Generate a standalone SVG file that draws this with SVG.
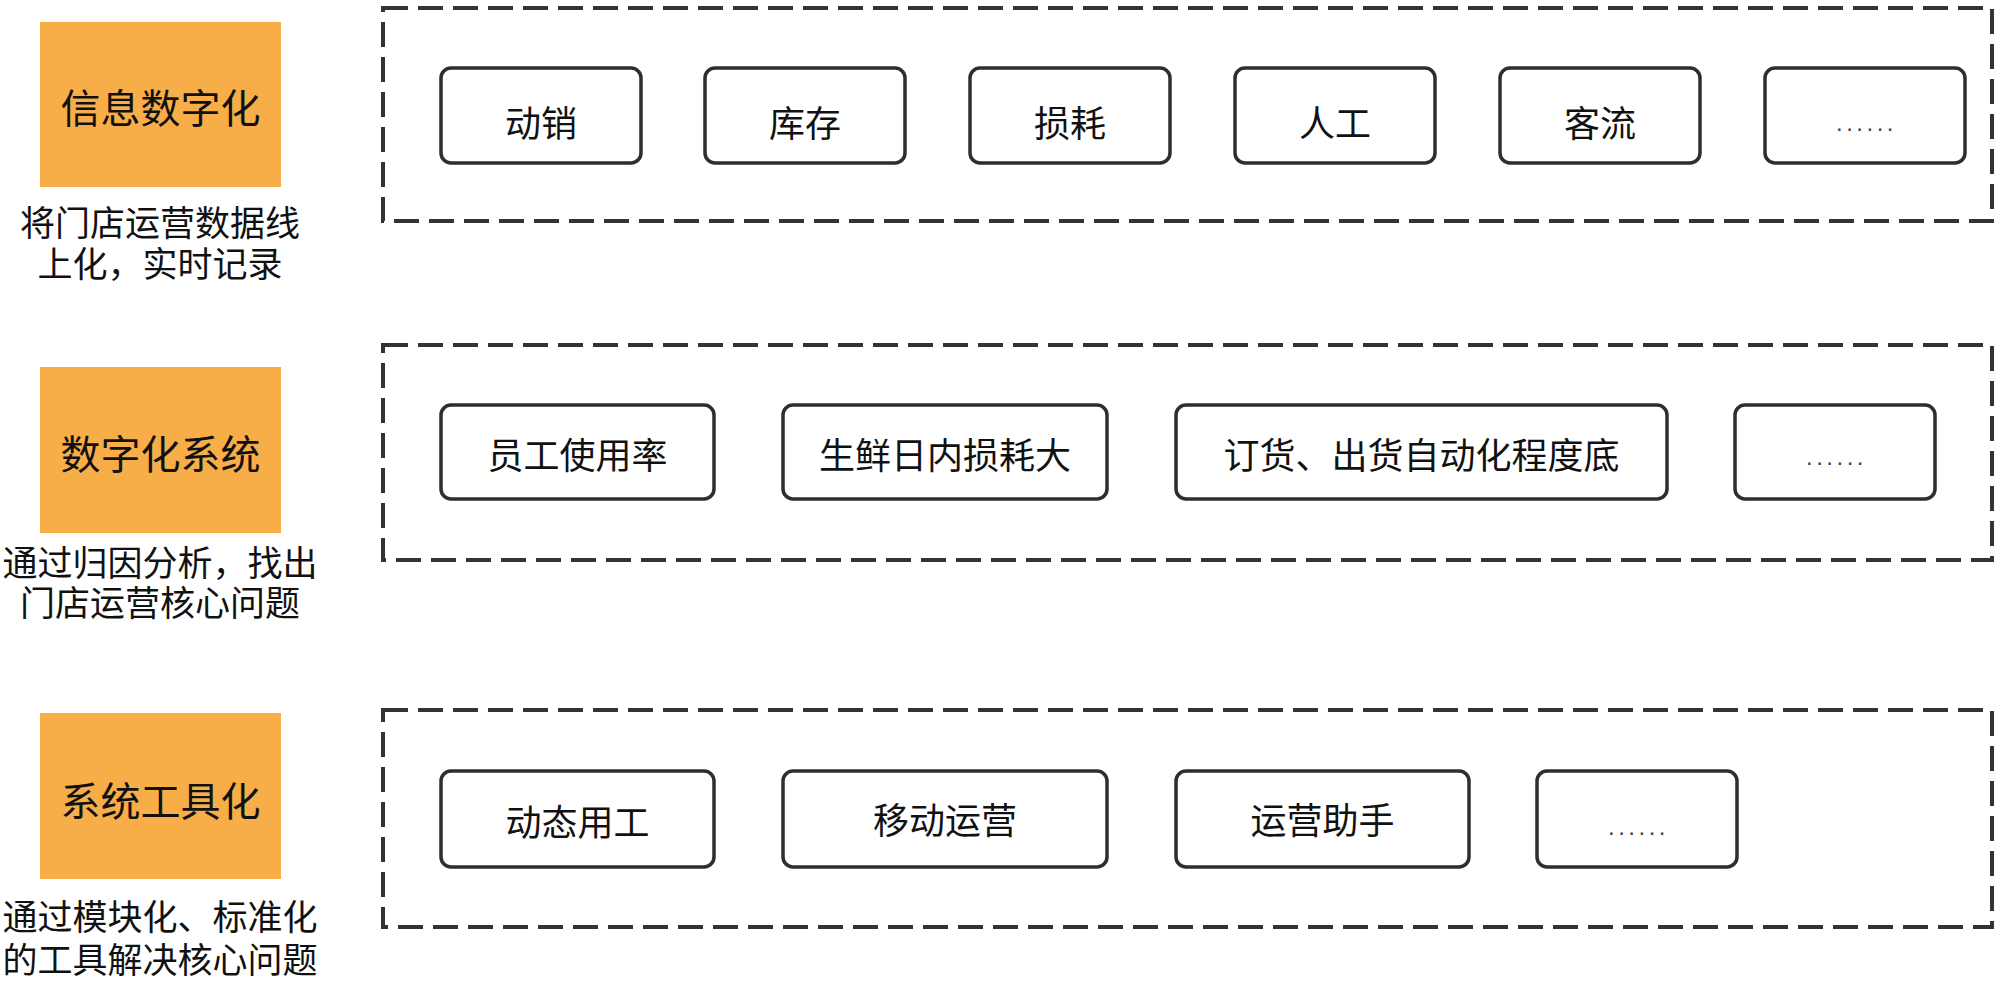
<svg xmlns="http://www.w3.org/2000/svg" width="2000" height="982" viewBox="0 0 2000 982">
<style>
.bg{fill:#ffffff}
.tag{fill:#F8AE48}
.tagt{font-family:"Liberation Sans","Noto Sans CJK SC",sans-serif;font-size:40px;fill:#111;text-anchor:middle}
.cap{font-family:"Liberation Sans","Noto Sans CJK SC",sans-serif;font-size:35px;fill:#111;text-anchor:middle}
.frame{fill:none;stroke:#333;stroke-width:4;stroke-dasharray:25 10}
.item{fill:#fff;stroke:#2e2e2e;stroke-width:3.5}
.itemt{font-family:"Liberation Sans","Noto Sans CJK SC",sans-serif;font-size:36px;fill:#111;text-anchor:middle}
.dots{font-family:"Liberation Sans",sans-serif;font-size:24px;letter-spacing:3.5px;fill:#444;text-anchor:middle}
</style>
<rect class="bg" x="0" y="0" width="2000" height="982"/>

<g id="layer1">
  <g id="tag1"><rect class="tag" x="40" y="22" width="241" height="165"/><text class="tagt" x="160.5" y="123">信息数字化</text></g>
  <g id="cap1"><text class="cap" x="160" y="236">将门店运营数据线</text><text class="cap" x="160" y="277">上化，实时记录</text></g>
  <g id="frame1"><rect class="frame" x="383" y="8" width="1609" height="213"/></g>
  <g id="n1a"><rect class="item" x="441" y="68" width="200" height="95" rx="10"/><text class="itemt" x="541" y="137">动销</text></g>
  <g id="n1b"><rect class="item" x="705" y="68" width="200" height="95" rx="10"/><text class="itemt" x="805" y="137">库存</text></g>
  <g id="n1c"><rect class="item" x="970" y="68" width="200" height="95" rx="10"/><text class="itemt" x="1070" y="137">损耗</text></g>
  <g id="n1d"><rect class="item" x="1235" y="68" width="200" height="95" rx="10"/><text class="itemt" x="1335" y="137">人工</text></g>
  <g id="n1e"><rect class="item" x="1500" y="68" width="200" height="95" rx="10"/><text class="itemt" x="1600" y="137">客流</text></g>
  <g id="n1f"><rect class="item" x="1765" y="68" width="200" height="95" rx="10"/><text class="dots" x="1866.5" y="131">......</text></g>
</g>

<g id="layer2">
  <g id="tag2"><rect class="tag" x="40" y="367" width="241" height="166"/><text class="tagt" x="160.5" y="469">数字化系统</text></g>
  <g id="cap2"><text class="cap" x="160" y="576">通过归因分析，找出</text><text class="cap" x="160" y="616">门店运营核心问题</text></g>
  <g id="frame2"><rect class="frame" x="383" y="345" width="1609" height="215"/></g>
  <g id="n2a"><rect class="item" x="441" y="405" width="273" height="94" rx="10"/><text class="itemt" x="577.5" y="469">员工使用率</text></g>
  <g id="n2b"><rect class="item" x="783" y="405" width="324" height="94" rx="10"/><text class="itemt" x="945" y="469">生鲜日内损耗大</text></g>
  <g id="n2c"><rect class="item" x="1176" y="405" width="491" height="94" rx="10"/><text class="itemt" x="1421.5" y="469">订货、出货自动化程度底</text></g>
  <g id="n2d"><rect class="item" x="1735" y="405" width="200" height="94" rx="10"/><text class="dots" x="1836.5" y="465">......</text></g>
</g>

<g id="layer3">
  <g id="tag3"><rect class="tag" x="40" y="713" width="241" height="166"/><text class="tagt" x="160.5" y="816">系统工具化</text></g>
  <g id="cap3"><text class="cap" x="160" y="930">通过模块化、标准化</text><text class="cap" x="160" y="973">的工具解决核心问题</text></g>
  <g id="frame3"><rect class="frame" x="383" y="710" width="1609" height="217"/></g>
  <g id="n3a"><rect class="item" x="441" y="771" width="273" height="96" rx="10"/><text class="itemt" x="577.5" y="836">动态用工</text></g>
  <g id="n3b"><rect class="item" x="783" y="771" width="324" height="96" rx="10"/><text class="itemt" x="945" y="834">移动运营</text></g>
  <g id="n3c"><rect class="item" x="1176" y="771" width="293" height="96" rx="10"/><text class="itemt" x="1322.5" y="834">运营助手</text></g>
  <g id="n3d"><rect class="item" x="1537" y="771" width="200" height="96" rx="10"/><text class="dots" x="1638.5" y="835">......</text></g>
</g>

<g id="connectors"></g>
</svg>
